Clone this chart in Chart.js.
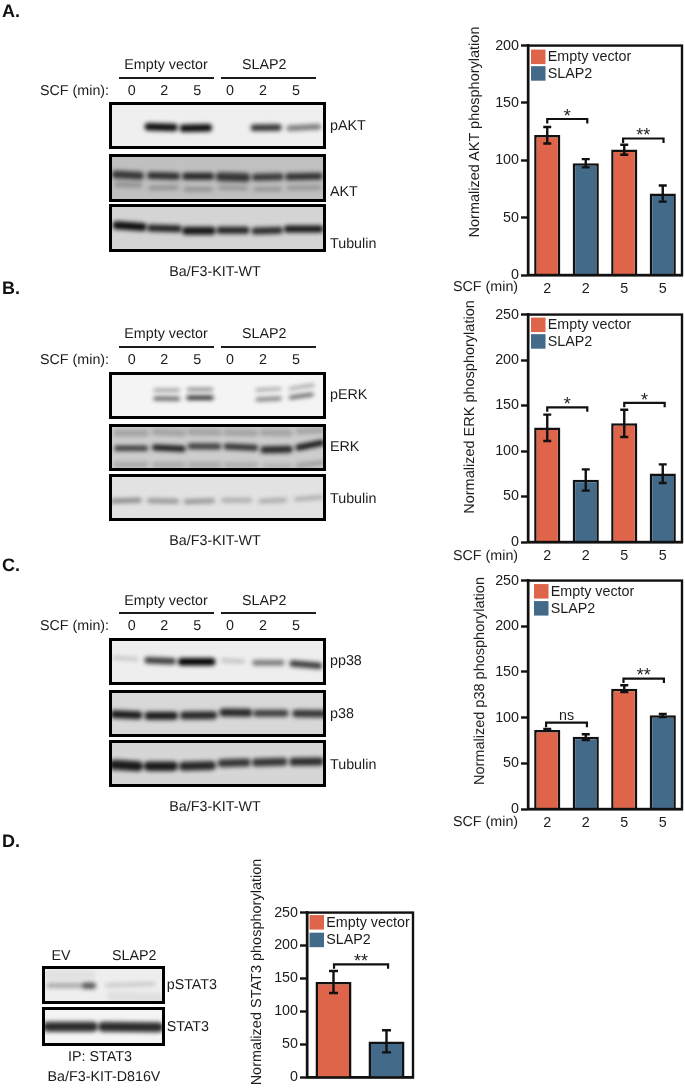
<!DOCTYPE html>
<html><head><meta charset="utf-8">
<script src="https://cdn.jsdelivr.net/npm/chart.js@4"></script>
<style>
html,body{margin:0;padding:0;background:#fff}
#page{position:relative;width:685px;height:1090px;overflow:hidden;font-family:"Liberation Sans",Arial,sans-serif;color:#1c1c1c;text-rendering:geometricPrecision;filter:blur(.35px)}
#page canvas{position:absolute;display:block}
.t{position:absolute;white-space:nowrap;font-size:14.3px;line-height:16px}
.hr{position:absolute;height:2px;background:#1c1c1c}
</style></head><body><div id="page"></div>
<script>
// ---------- bar chart data ----------
const categories4 = ['2','2','5','5'];
const categoriesD = ['EV','SLAP2'];
const seriesNames = ['Empty vector','SLAP2'];

const aktEmpty = [122,null,109.5,null], aktSlap = [null,97.5,null,71];
const aktHigh = [129,101,113.5,78], aktLow = [114.7,93.8,104.8,64];
const aktBrackets = [[0,1.04,136,'*'],[1.97,3.02,119,'**']];

const erkEmpty = [126,null,130.5,null], erkSlap = [null,68.5,null,75.4];
const erkHigh = [140,79.8,145.4,85.3], erkLow = [111,56.5,115.5,64.9];
const erkBrackets = [[0,1.04,148,'*'],[2,3.05,153,'*']];

const p38Empty = [86.5,null,131.5,null], p38Slap = [null,79.2,null,102.5];
const p38High = [87.5,81.8,135.5,104], p38Low = [85.5,75.6,128,100.6];
const p38Brackets = [[-0.03,1.03,94.5,'ns'],[1.98,3.03,142.8,'**']];

const statEmpty = [144.7,null], statSlap = [null,54.6];
const statHigh = [161.3,71.6], statLow = [128,38];
const statBrackets = [[0.01,1.03,171.5,'**']];

// ---------- blot bands: x0,y0,x1,y1 on the blot axes, thickness, density ----------
const pAKT = [[445,382,522,384,7.5,.95],[550,386,625,385,7.5,.95],[762,385,835,384,6.5,.8],[868,386,955,382,5.5,.5]];
const AKT = [[347,523,420,527,8,.72],[452,526,530,528,7,.78],[557,528,632,528,7,.82],[660,530,738,532,9,.72],[766,531,840,530,7,.72],[866,530,958,528,7,.76],
 [350,553,420,555,5,.25],[452,563,530,562,4.5,.25],[557,567,632,567,4.5,.25],[660,562,738,564,4,.25],[766,567,840,566,4,.25],[866,563,958,562,4,.25]];
const TubA = [[350,677,428,682,8,.95],[452,685,535,687,7,.85],[558,693,635,693,8,.9],[660,692,738,692,7,.85],[765,694,838,692,7,.8],[862,688,960,688,7,.9]];

const pERK = [[465,300,535,300,3,.42],[565,298,635,298,3,.5],[770,300,840,296,2.6,.4],[870,296,940,285,2.6,.4],
 [465,325,535,326,3.5,.7],[565,323,635,323,4,.9],[772,328,840,325,3.5,.55],[872,322,936,313,3.5,.65]];
const ERK = [[350,474,437,474,5,.78],[465,472,548,476,6,.88],[572,468,655,469,6,.72],[680,469,765,473,6,.78],[792,479,868,477,7,.82],[895,472,965,458,6,.9],
 [350,428,437,428,7,.2],[465,425,548,428,7,.2],[572,425,655,427,7,.2],[680,427,765,428,7,.2],[790,427,868,428,7,.2],[895,424,965,421,6,.2],
 [350,524,437,524,6,.17],[465,525,548,525,6,.17],[572,525,655,525,6,.17],[680,526,765,526,6,.15],[795,528,868,528,5,.13],[895,527,965,518,5,.22]];
const TubB = [[338,633,418,631,4.5,.42],[448,632,530,634,4.5,.36],[558,635,638,632,4.5,.36],[670,631,750,631,4,.28],[782,634,855,630,4,.28],[888,628,965,622,3.5,.28]];

const pp38 = [[342,308,410,312,3.5,.18],[443,315,518,318,6.5,.75],[545,320,635,320,7.5,1],[668,316,730,319,3.5,.22],[765,323,845,323,5.5,.5],[878,325,957,332,6.5,.75]];
const p38Blot = [[343,477,415,480,8,.88],[445,482,522,482,8,.88],[552,481,640,480,8,.82],[670,472,745,473,8,.82],[770,474,855,474,7,.72],[888,475,970,476,7.5,.76]];
const TubC = [[342,630,415,634,10,.88],[445,634,520,634,9.5,.88],[550,634,635,632,9,.82],[665,625,740,623,8,.76],[768,623,850,621,8,.76],[880,621,960,620,8,.8]];

const pSTAT3 = [[145,467,278,467,4.5,.32],[255,468,278,468,6,.5],[320,467,460,462,3.5,.18],[335,500,485,505,10,.06],[145,435,270,435,10,.05]];
const STAT3 = [[142,590,278,590,10,.82],[308,590,475,591,10,.82]];

// ---------- text lists ----------
const laneLabels = ['0','2','5','0','2','5'];
const ink = '#111', red = '#de644a', blue = '#446a8a';
const page = document.getElementById('page');

function text(s,x,y,anchor,opts){
  const d=document.createElement('div');d.className='t';d.textContent=s;
  d.style.left=x+'px';d.style.top=y+'px';
  const tx=anchor==='c'?'-50%':anchor==='r'?'-100%':'0';
  d.style.transform='translate('+tx+',-50%)'+(opts&&opts.rot?' rotate(-90deg)':'');
  if(opts&&opts.bold){d.style.fontWeight='bold';d.style.color='#111'}
  if(opts&&opts.size)d.style.fontSize=opts.size+'px';
  page.appendChild(d);
}
function rule(x0,x1,y){const d=document.createElement('div');d.className='hr';
  d.style.left=x0+'px';d.style.width=(x1-x0)+'px';d.style.top=(y-1)+'px';page.appendChild(d)}
function canvasAt(x,y,w,h){const c=document.createElement('canvas');c.width=w;c.height=h;
  c.style.left=x+'px';c.style.top=y+'px';c.style.width=w+'px';c.style.height=h+'px';page.appendChild(c);return c}

// ---------- blot panels ----------
const blotPlugin={id:'blot',
  beforeDraw(ch,a,o){const{ctx,width,height}=ch;ctx.save();ctx.fillStyle=o.bg;ctx.fillRect(0,0,width,height);ctx.restore()},
  beforeDatasetsDraw(ch){ch.ctx.save();ch.ctx.filter='blur(2px)'},
  afterDatasetsDraw(ch){ch.ctx.restore()},
  afterDraw(ch){const{ctx,width,height}=ch;ctx.save();ctx.strokeStyle='#000';ctx.lineWidth=3;ctx.strokeRect(1.5,1.5,width-3,height-3);ctx.restore()}
};
function blot(originY,x0,x1,y0,y1,bg,bands){
  const c=canvasAt(Math.round(x0/3),Math.round(originY+y0/3),Math.round((x1-x0)/3),Math.round((y1-y0)/3));
  new Chart(c,{type:'scatter',plugins:[blotPlugin],
    data:{datasets:bands.map(b=>({data:[{x:b[0],y:b[1]},{x:b[2],y:b[3]}],showLine:true,pointRadius:0,
      borderWidth:b[4],borderCapStyle:'round',borderColor:'rgba(0,0,0,'+b[5]+')',clip:false}))},
    options:{responsive:false,animation:false,events:[],layout:{padding:0},
      plugins:{legend:{display:false},tooltip:{enabled:false},blot:{bg}},
      scales:{x:{type:'linear',display:false,min:x0,max:x1},y:{type:'linear',display:false,min:y0,max:y1,reverse:true}}}});
}

// ---------- bar charts ----------
const annot={id:'annot',
  afterDatasetsDraw(ch,a,o){
    const{ctx,chartArea:ca,scales:{x,y}}=ch;ctx.save();
    ctx.strokeStyle=ink;ctx.lineWidth=2.4;ctx.strokeRect(ca.left,ca.top,ca.right-ca.left,ca.bottom-ca.top);
    // error bars
    o.high.forEach((h,i)=>{const px=x.getPixelForValue(i),yh=y.getPixelForValue(h),yl=y.getPixelForValue(o.low[i]);
      ctx.beginPath();ctx.moveTo(px,yh);ctx.lineTo(px,yl);
      ctx.moveTo(px-o.cap,yh);ctx.lineTo(px+o.cap,yh);ctx.moveTo(px-o.cap,yl);ctx.lineTo(px+o.cap,yl);ctx.stroke()});
    // brackets
    ctx.lineWidth=2.2;
    o.brackets.forEach(b=>{const xa=x.getPixelForValue(b[0]),xb=x.getPixelForValue(b[1]),yy=y.getPixelForValue(b[2]);
      ctx.beginPath();ctx.moveTo(xa,yy+4.5);ctx.lineTo(xa,yy);ctx.lineTo(xb,yy);ctx.lineTo(xb,yy+4.5);ctx.stroke();
      ctx.fillStyle='#1c1c1c';ctx.textAlign='center';ctx.textBaseline='middle';
      const isNs=b[3]==='ns';
      ctx.font=(isNs?'14.3':'18')+'px "Liberation Sans"';
      ctx.fillText(b[3],(xa+xb)/2,yy+(isNs?-7:-2));});
    // legend
    const names=ch.data.datasets.map(d=>d.label),cols=ch.data.datasets.map(d=>d.backgroundColor);
    ctx.font='14.3px "Liberation Sans"';ctx.textAlign='left';ctx.textBaseline='middle';
    names.forEach((n,i)=>{const ly=ca.top+o.legendTop+i*o.legendStep;
      ctx.fillStyle=cols[i];ctx.fillRect(ca.left+o.legendLeft,ly,14.5,14.5);
      ctx.fillStyle='#1c1c1c';ctx.fillText(n,ca.left+o.legendLeft+16.8,ly+7.5)});
    ctx.restore();
  }};
function barChart(cfg){
  const leftPad=42,top=10,rightPad=3,bottom=cfg.noX?5:22;
  const w=cfg.right-cfg.left+leftPad+rightPad,h=cfg.bottom-cfg.top+top+bottom;
  const c=canvasAt(cfg.left-leftPad,cfg.top-top,w,h);
  new Chart(c,{type:'bar',plugins:[annot],
    data:{labels:cfg.labels,datasets:[
      {label:seriesNames[0],data:cfg.a,backgroundColor:red,borderColor:ink,borderWidth:2.5,grouped:false,barPercentage:.68,categoryPercentage:1},
      {label:seriesNames[1],data:cfg.b,backgroundColor:blue,borderColor:ink,borderWidth:2.5,grouped:false,barPercentage:.68,categoryPercentage:1}]},
    options:{responsive:false,animation:false,events:[],
      layout:{padding:{left:0,top:top,right:rightPad,bottom:0}},
      plugins:{legend:{display:false},tooltip:{enabled:false},
        annot:{high:cfg.high,low:cfg.low,brackets:cfg.brackets,cap:cfg.cap||4,legendLeft:cfg.legendLeft,legendTop:cfg.legendTop,legendStep:cfg.legendStep}},
      scales:{
        x:{grid:{display:false,drawTicks:false},border:{color:ink,width:2.4},
          ticks:{display:!cfg.noX,color:'#1c1c1c',padding:5,maxRotation:0,font:{family:'Liberation Sans',size:14.3}},
          afterFit(s){s.height=bottom}},
        y:{min:0,max:cfg.max,grid:{drawOnChartArea:false,tickLength:7,tickColor:ink,tickWidth:2.4},border:{color:ink,width:2.4},
          ticks:{stepSize:50,color:'#1c1c1c',padding:2,font:{family:'Liberation Sans',size:14.3}},
          afterFit(s){s.width=leftPad}}
      }}});
}

barChart({left:528,right:682,top:45,bottom:275,max:200,labels:categories4,a:aktEmpty,b:aktSlap,high:aktHigh,low:aktLow,brackets:aktBrackets,legendLeft:3,legendTop:4,legendStep:16.6});
barChart({left:528,right:682,top:314,bottom:542,max:250,labels:categories4,a:erkEmpty,b:erkSlap,high:erkHigh,low:erkLow,brackets:erkBrackets,legendLeft:3,legendTop:3,legendStep:16.6});
barChart({left:528,right:682,top:580,bottom:809,max:250,labels:categories4,a:p38Empty,b:p38Slap,high:p38High,low:p38Low,brackets:p38Brackets,legendLeft:6,legendTop:3.5,legendStep:17});
barChart({left:307,right:413,top:912,bottom:1083,max:250,labels:categoriesD,a:statEmpty,b:statSlap,high:statHigh,low:statLow,brackets:statBrackets,noX:true,legendLeft:2.5,legendTop:2.5,legendStep:17.6,cap:4.5});

// ---------- axis titles and SCF labels ----------
text('Normalized AKT phosphorylation',474.5,132,'c',{rot:1,size:14.5});
text('Normalized ERK phosphorylation',470,407,'c',{rot:1,size:14.5});
text('Normalized p38 phosphorylation',480,681,'c',{rot:1,size:14.5});
text('Normalized STAT3 phosphorylation',257,971.5,'c',{rot:1,size:14.5});
text('SCF (min)',453,287,'l');text('SCF (min)',453,556,'l');text('SCF (min)',453,822,'l');

// ---------- panels A-C text and blots ----------
function header(o,yE,yRule,yS,yBa){
  text(seriesNames[0],166,o+yE/3,'c');text(seriesNames[1],264.3,o+yE/3,'c');
  rule(119.3,214,o+yRule/3);rule(220.7,315.7,o+yRule/3);
  text('SCF (min):',40,o+yS/3,'l');
  [395,493,592,690,789,888].forEach((x,i)=>text(laneLabels[i],x/3,o+yS/3,'c'));
  text('Ba/F3-KIT-WT',215,o+yBa/3,'c');
}
text('A.',2,11,'l',{bold:1,size:18});text('B.',2,288,'l',{bold:1,size:18});text('C.',2,565,'l',{bold:1,size:18});text('D.',2,841,'l',{bold:1,size:18});

header(0,196,234,272,816);
blot(0,327,978,307,449,'#efefef',pAKT);blot(0,327,978,462,605,'#c0c0c0',AKT);blot(0,327,978,613,757,'#d4d4d4',TubA);
text('pAKT',330,126,'l');text('AKT',330,192.3,'l');text('Tubulin',330,244.3,'l');

header(290,133,171,211,752);
blot(290,327,978,246,386,'#f4f4f4',pERK);blot(290,327,978,401,543,'#cdcdcd',ERK);blot(290,327,978,552,693,'#e2e2e2',TubB);
text('pERK',330,290+315/3,'l');text('ERK',330,290+470/3,'l');text('Tubulin',330,290+628/3,'l');

header(555,137,175,214,757);
blot(555,327,978,248,390,'#eeeeee',pp38);blot(555,327,978,404,546,'#d8d8d8',p38Blot);blot(555,327,978,555,697,'#d6d6d6',TubC);
text('pp38',330,555+318/3,'l');text('p38',330,555+476/3,'l');text('Tubulin',330,555+631/3,'l');

// ---------- panel D ----------
text('EV',61,830+378/3,'c');text('SLAP2',134.3,830+378/3,'c');
blot(830,125,494,408,523,'#eeeeee',pSTAT3);blot(830,125,494,530,648,'#f4f4f4',STAT3);
text('pSTAT3',166.7,830+466/3,'l');text('STAT3',166.7,830+590/3,'l');
text('IP: STAT3',100,830+680/3,'c');text('Ba/F3-KIT-D816V',104,830+742/3,'c');
</script></body></html>
